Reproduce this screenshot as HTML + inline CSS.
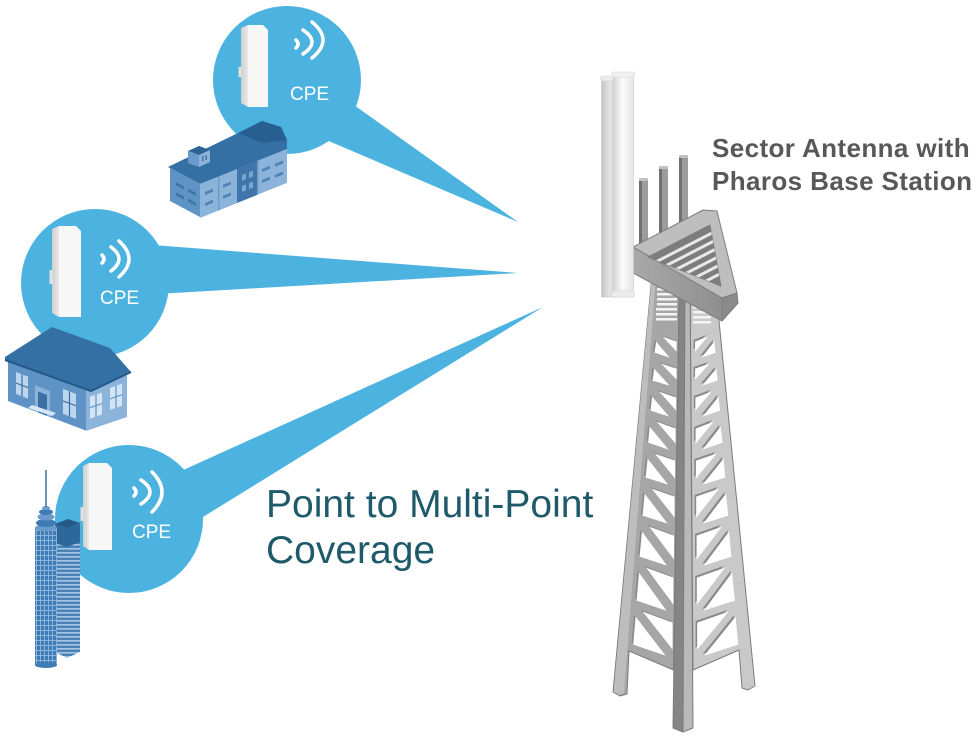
<!DOCTYPE html>
<html><head><meta charset="utf-8"><style>
html,body{margin:0;padding:0;background:#fff;}
svg{display:block;}
</style></head><body>
<svg width="978" height="736" viewBox="0 0 978 736" xmlns="http://www.w3.org/2000/svg" xmlns:xlink="http://www.w3.org/1999/xlink">
<defs>
<linearGradient id="antB" x1="0" x2="1" y1="0" y2="0"><stop offset="0" stop-color="#c4c4c4"/><stop offset="0.6" stop-color="#e4e4e4"/><stop offset="1" stop-color="#d6d6d6"/></linearGradient>
<linearGradient id="antF" x1="0" x2="1" y1="0" y2="0"><stop offset="0" stop-color="#d2d2d2"/><stop offset="0.45" stop-color="#fbfbfb"/><stop offset="1" stop-color="#e4e4e4"/></linearGradient>
<linearGradient id="plFront" x1="0" x2="1" y1="0" y2="0"><stop offset="0" stop-color="#a9a9a9"/><stop offset="1" stop-color="#8f8f8f"/></linearGradient>
<linearGradient id="devSide" x1="0" x2="1" y1="0" y2="0"><stop offset="0" stop-color="#cfcfcf"/><stop offset="1" stop-color="#e9e9e9"/></linearGradient>
<pattern id="grid" width="4" height="5" patternUnits="userSpaceOnUse"><rect width="4" height="5" fill="#3f7bb5"/><path d="M0 0.5H4M0.5 0V5" stroke="#8ab3dc" stroke-width="1"/></pattern>
<pattern id="stripe" width="6" height="4" patternUnits="userSpaceOnUse"><rect width="6" height="4" fill="#4a82b8"/><rect y="0" width="6" height="1.6" fill="#a6c6e6"/></pattern>
<clipPath id="holeClip"><polygon points="648,257 710,225 721,286"/></clipPath>
<g id="holes">
<polygon points="661,335 675,340 675,350"/>
<polygon points="654.5,340 668,356 653,351"/>
<polygon points="693.5,340 706,335 693.5,350"/>
<polygon points="712.6,340 714,351 700,356"/>
<polygon points="659.5,362 675,367 675,378"/>
<polygon points="652.5,367 668,384 651,379"/>
<polygon points="693.5,367 708,362 693.5,378"/>
<polygon points="714.7,367 716,379 700.5,384"/>
<polygon points="657.5,390 674.6,396 674.6,409"/>
<polygon points="650.4,395 667.6,415 649,409"/>
<polygon points="693.8,396 710,390 693.8,409"/>
<polygon points="717,395 718.4,409 701,415"/>
<polygon points="655,420 674,427 674,442"/>
<polygon points="648,425 667,448 646.6,441"/>
<polygon points="694,427 712,420 694,442"/>
<polygon points="719,425 721,441 701,448"/>
<polygon points="653,452 673.5,459 673.5,477"/>
<polygon points="646,457 666.5,483 644,476"/>
<polygon points="694.3,459 715,452 694.3,477"/>
<polygon points="722,457 723.6,476 701,483"/>
<polygon points="650,487 673,495 673,516"/>
<polygon points="643,492 666,522 641,514"/>
<polygon points="694.6,495 717.5,487 694.6,516"/>
<polygon points="724.4,492 726.6,514 701.6,522"/>
<polygon points="647.5,525 672.4,534 672.4,558"/>
<polygon points="640.4,530 665.4,564 638,555"/>
<polygon points="695,534 720.4,525 695,558"/>
<polygon points="727.4,530 729.8,555 702,564"/>
<polygon points="644.4,566 671.8,576 671.8,603"/>
<polygon points="637.4,571 664.8,609 635,599"/>
<polygon points="695.2,576 723.5,566 695.2,603"/>
<polygon points="730.5,571 733.2,599 702.2,609"/>
<polygon points="641,610 671,621 671,648"/>
<polygon points="634,615 664,654 631.6,643"/>
<polygon points="695.6,621 727,610 695.6,648"/>
<polygon points="734,615 736.6,643 702.6,654"/>
</g>
</defs>
<rect width="978" height="736" fill="#fff"/>

<!-- beams + circles -->
<g fill="#4cb3e1">
<polygon points="340,95 518,222 310,133"/>
<polygon points="140,244 518,273 140,295"/>
<polygon points="170,476 543,307 190,525"/>
<circle cx="287" cy="80" r="74"/>
<circle cx="95" cy="283" r="74"/>
<circle cx="129" cy="519" r="74"/>
</g>

<!-- CPE devices -->
<g>
<polygon points="248,25 263,25 268,30 268,107 248,107" fill="#f7f7f7"/>
<polygon points="241,28 248,25 248,107 241,103" fill="url(#devSide)"/>
<rect x="238.5" y="67" width="3" height="10" fill="#e2e2e2"/>

<polygon points="59,226 76,226 81,231 81,317 59,317" fill="#f7f7f7"/>
<polygon points="52,229 59,226 59,317 52,313" fill="url(#devSide)"/>
<rect x="49.5" y="270" width="3" height="14" fill="#e2e2e2"/>

<polygon points="89,463 107,463 112,468 112,550 89,550" fill="#f7f7f7"/>
<polygon points="83,466 89,463 89,550 83,546" fill="url(#devSide)"/>
<rect x="80.5" y="507" width="3" height="14" fill="#e2e2e2"/>
</g>

<!-- wifi -->
<g fill="none" stroke="#fff" stroke-width="3.5" stroke-linecap="round">
<path d="M296,40 Q300,44 296,48"/>
<path d="M303,30 Q321,42 303,54"/>
<path d="M312,22 Q334,40 312,58"/>
<path d="M102,255 Q106,259 102,263"/>
<path d="M111,247 Q127,259 111,271"/>
<path d="M119,241 Q139,259 119,277"/>
<path d="M134,488 Q138,492 134,496"/>
<path d="M141,480 Q159,492 141,504"/>
<path d="M152,472 Q172,492 152,512"/>
</g>
<g fill="#fff" font-family="'Liberation Sans', sans-serif" font-size="19">
<text x="290" y="100">CPE</text>
<text x="100" y="304">CPE</text>
<text x="132" y="538">CPE</text>
</g>

<!-- building 1 -->
<g>
<polygon points="168,167 238,133 262,121 281,127 287,140 287,150 200,184" fill="#3570a4"/>
<polygon points="238,133 262,121 281,127 287,140 262,143" fill="#285f91"/>
<g transform="translate(170,168) skewY(28)">
<rect x="0" y="0" width="30" height="33" fill="#5f93c5"/>
<rect x="6" y="11" width="8" height="3" fill="#3e74a9"/>
<rect x="18" y="11" width="8" height="3" fill="#3e74a9"/>
<rect x="6" y="21" width="8" height="3" fill="#3e74a9"/>
<rect x="18" y="21" width="8" height="3" fill="#3e74a9"/>
</g>
<g transform="translate(200,184) skewY(-22)">
<rect x="0" y="0" width="87" height="34" fill="#8cb4db"/>
<rect x="37" y="0" width="20" height="34" fill="#3f75aa"/>
<rect x="18" y="0" width="1.5" height="34" fill="#6e9cc9"/>
<rect x="57" y="0" width="1.5" height="34" fill="#6e9cc9"/>
<rect x="5" y="10" width="8" height="3" fill="#5084b8"/>
<rect x="23" y="10" width="8" height="3" fill="#5084b8"/>
<rect x="5" y="21" width="8" height="3" fill="#5084b8"/>
<rect x="23" y="21" width="8" height="3" fill="#5084b8"/>
<rect x="42" y="8" width="4" height="6" fill="#7aa5d0"/>
<rect x="49" y="8" width="4" height="6" fill="#7aa5d0"/>
<rect x="42" y="19" width="4" height="6" fill="#7aa5d0"/>
<rect x="49" y="19" width="4" height="6" fill="#7aa5d0"/>
<rect x="62" y="10" width="8" height="3" fill="#5084b8"/>
<rect x="75" y="10" width="8" height="3" fill="#5084b8"/>
<rect x="62" y="21" width="8" height="3" fill="#5084b8"/>
<rect x="75" y="21" width="8" height="3" fill="#5084b8"/>
</g>
<polygon points="188,151 199,146 210,150 199,155" fill="#2b6395"/>
<polygon points="188,151 199,155 199,167 188,163" fill="#6a9bcc"/>
<polygon points="199,155 210,150 210,162 199,167" fill="#8cb4db"/>
<rect x="202" y="156" width="1.5" height="5" fill="#3e74a9"/>
<rect x="205.5" y="155" width="1.5" height="5" fill="#3e74a9"/>
</g>

<!-- house -->
<g>
<g transform="translate(8,360) skewY(20.8)">
<rect x="0" y="0" width="78" height="41" fill="#5f93c5"/>
<rect x="8" y="9" width="12" height="22" fill="#bcd6ee"/>
<path d="M14,9V31M8,20H20" stroke="#3a6fa3" stroke-width="1.2"/>
<rect x="27" y="15" width="15" height="26" fill="#8cb4db"/>
<rect x="30" y="20" width="9" height="21" fill="#3a6fa3"/>
<rect x="55" y="8" width="13" height="25" fill="#bcd6ee"/>
<path d="M61.5,8V33M55,20H68" stroke="#3a6fa3" stroke-width="1.2"/>
</g>
<g transform="translate(86,389) skewY(-18.8)">
<rect x="0" y="0" width="41" height="42" fill="#8cb4db"/>
<rect x="4" y="9" width="12" height="22" fill="#d3e5f5"/>
<path d="M10,9V31M4,20H16" stroke="#5e92c5" stroke-width="1.2"/>
<rect x="24" y="7" width="12" height="22" fill="#d3e5f5"/>
<path d="M30,7V29M24,18H36" stroke="#5e92c5" stroke-width="1.2"/>
</g>
<polygon points="5,357 52,327 110,348 131,372 91,391 5,360" fill="#3570a4"/>
<polyline points="5,360 91,391 131,372" fill="none" stroke="#24598a" stroke-width="2"/>
<polygon points="28,408 52,416 56,413 32,405" fill="#d6e6f5"/>
</g>

<!-- skyscraper -->
<g>
<polygon points="55,524 67,528 80,523 80,652 67,658 55,652" fill="url(#stripe)"/>
<polygon points="55,524 67,528 80,523 80,542 67,547 55,543" fill="#2e679a"/>
<polygon points="55,524 68,519 80,523 67,528" fill="#24598a"/>
<rect x="35" y="528" width="22" height="137" fill="url(#grid)"/>
<ellipse cx="46" cy="665" rx="11" ry="3" fill="#3f7bb5"/>
<ellipse cx="46" cy="528" rx="11" ry="3.5" fill="#6a9bcc"/>
<ellipse cx="46" cy="523" rx="10" ry="4" fill="#3f7bb5"/>
<ellipse cx="46" cy="517" rx="8.5" ry="3.5" fill="#6a9bcc"/>
<ellipse cx="46" cy="512" rx="7" ry="3" fill="#3f7bb5"/>
<ellipse cx="46" cy="508" rx="4" ry="2" fill="#6a9bcc"/>
<line x1="46" y1="470" x2="46" y2="507" stroke="#3a6fa0" stroke-width="1.5"/>
</g>

<!-- tower body -->
<g stroke="#7b7b7b" stroke-width="1" stroke-linejoin="round">
<polygon points="652.5,270 679.5,270 673.5,670 629,651 627,694 620,696 613,692" fill="#a6a6a6"/>
<polygon points="690,270 714,270 755,686 748,690 742,688 739,650 693,670" fill="#c9c9c9"/>
<polygon points="679.5,270 685,270 683,732 673,728" fill="#858585"/>
<polygon points="685,270 690,270 693,728 683,732" fill="#b9b9b9"/>
</g>
<polygon points="652.5,270 656.5,270 624,693 620,695 613.5,692" fill="#bdbdbd"/>

<!-- slats upper -->
<g fill="#f4f4f4">
<rect x="657" y="288" width="20" height="2.5"/>
<rect x="657" y="293" width="20" height="2.5"/>
<rect x="657" y="298" width="20" height="2.5"/>
<rect x="657" y="303" width="20" height="2.5"/>
<rect x="656" y="308" width="21" height="2.5"/>
<rect x="656" y="313" width="21" height="2.5"/>
<rect x="656" y="318" width="21" height="2.5"/>
<rect x="693" y="306" width="18" height="2.5"/>
<rect x="693" y="311" width="18" height="2.5"/>
<rect x="693" y="316" width="18" height="2.5"/>
<rect x="693" y="321" width="18" height="2.5"/>
</g>

<!-- lattice holes with inner shadow -->
<use xlink:href="#holes" href="#holes" fill="#8a8a8a"/>
<use xlink:href="#holes" href="#holes" fill="#ffffff" transform="translate(1.6,1.6)"/>

<!-- posts -->
<g>
<rect x="639" y="180" width="9" height="80" fill="#9c9c9c"/>
<rect x="639" y="180" width="3" height="80" fill="#707070"/>
<rect x="639" y="178" width="9" height="3" fill="#c2c2c2"/>
<rect x="659" y="168" width="9" height="80" fill="#9c9c9c"/>
<rect x="659" y="168" width="3" height="80" fill="#707070"/>
<rect x="659" y="166" width="9" height="3" fill="#c2c2c2"/>
<rect x="679" y="157" width="9" height="80" fill="#9c9c9c"/>
<rect x="679" y="157" width="3" height="80" fill="#707070"/>
<rect x="679" y="155" width="9" height="3" fill="#c2c2c2"/>
</g>

<!-- platform -->
<g stroke="#7e7e7e" stroke-width="1" stroke-linejoin="round">
<polygon points="633,247 703,210 717,211 737,293 722,298" fill="#bebebe"/>
<polygon points="633,247 722,298 722,321 633,273" fill="url(#plFront)"/>
<polygon points="722,298 737,293 738,303 722,321" fill="#8a8a8a"/>
<polygon points="648,257 710,225 721,286" fill="#7d7d7d"/>
</g>
<g clip-path="url(#holeClip)" stroke="#e8e8e8" stroke-width="3">
<line x1="648" y1="266" x2="722" y2="227.8"/>
<line x1="648" y1="275" x2="722" y2="236.8"/>
<line x1="648" y1="284" x2="722" y2="245.8"/>
<line x1="648" y1="293" x2="722" y2="254.8"/>
<line x1="648" y1="302" x2="722" y2="263.8"/>
<line x1="648" y1="311" x2="722" y2="272.8"/>
</g>

<!-- antenna -->
<g>
<rect x="601.5" y="78" width="13.5" height="219" fill="url(#antB)" stroke="#c4c4c4" stroke-width="0.6"/>
<rect x="600.5" y="76" width="15" height="5" rx="2" fill="#ececec" stroke="#cfcfcf" stroke-width="0.6"/>
<rect x="613" y="74" width="20.5" height="223" fill="url(#antF)" stroke="#cfcfcf" stroke-width="0.6"/>
<rect x="612" y="72" width="22.5" height="5" rx="2" fill="#f2f2f2" stroke="#d0d0d0" stroke-width="0.6"/>
<rect x="612" y="291" width="22.5" height="6" rx="2" fill="#ececec" stroke="#d0d0d0" stroke-width="0.6"/>
</g>

<!-- labels -->
<g font-family="'Liberation Sans', sans-serif" font-weight="bold" font-size="26" fill="#585858" letter-spacing="0.4">
<text x="712" y="157">Sector Antenna with</text>
<text x="712" y="190">Pharos Base Station</text>
</g>
<g font-family="'Liberation Sans', sans-serif" font-size="39" fill="#1e5a6a">
<text x="266" y="517">Point to Multi-Point</text>
<text x="266" y="563">Coverage</text>
</g>
</svg>
</body></html>
